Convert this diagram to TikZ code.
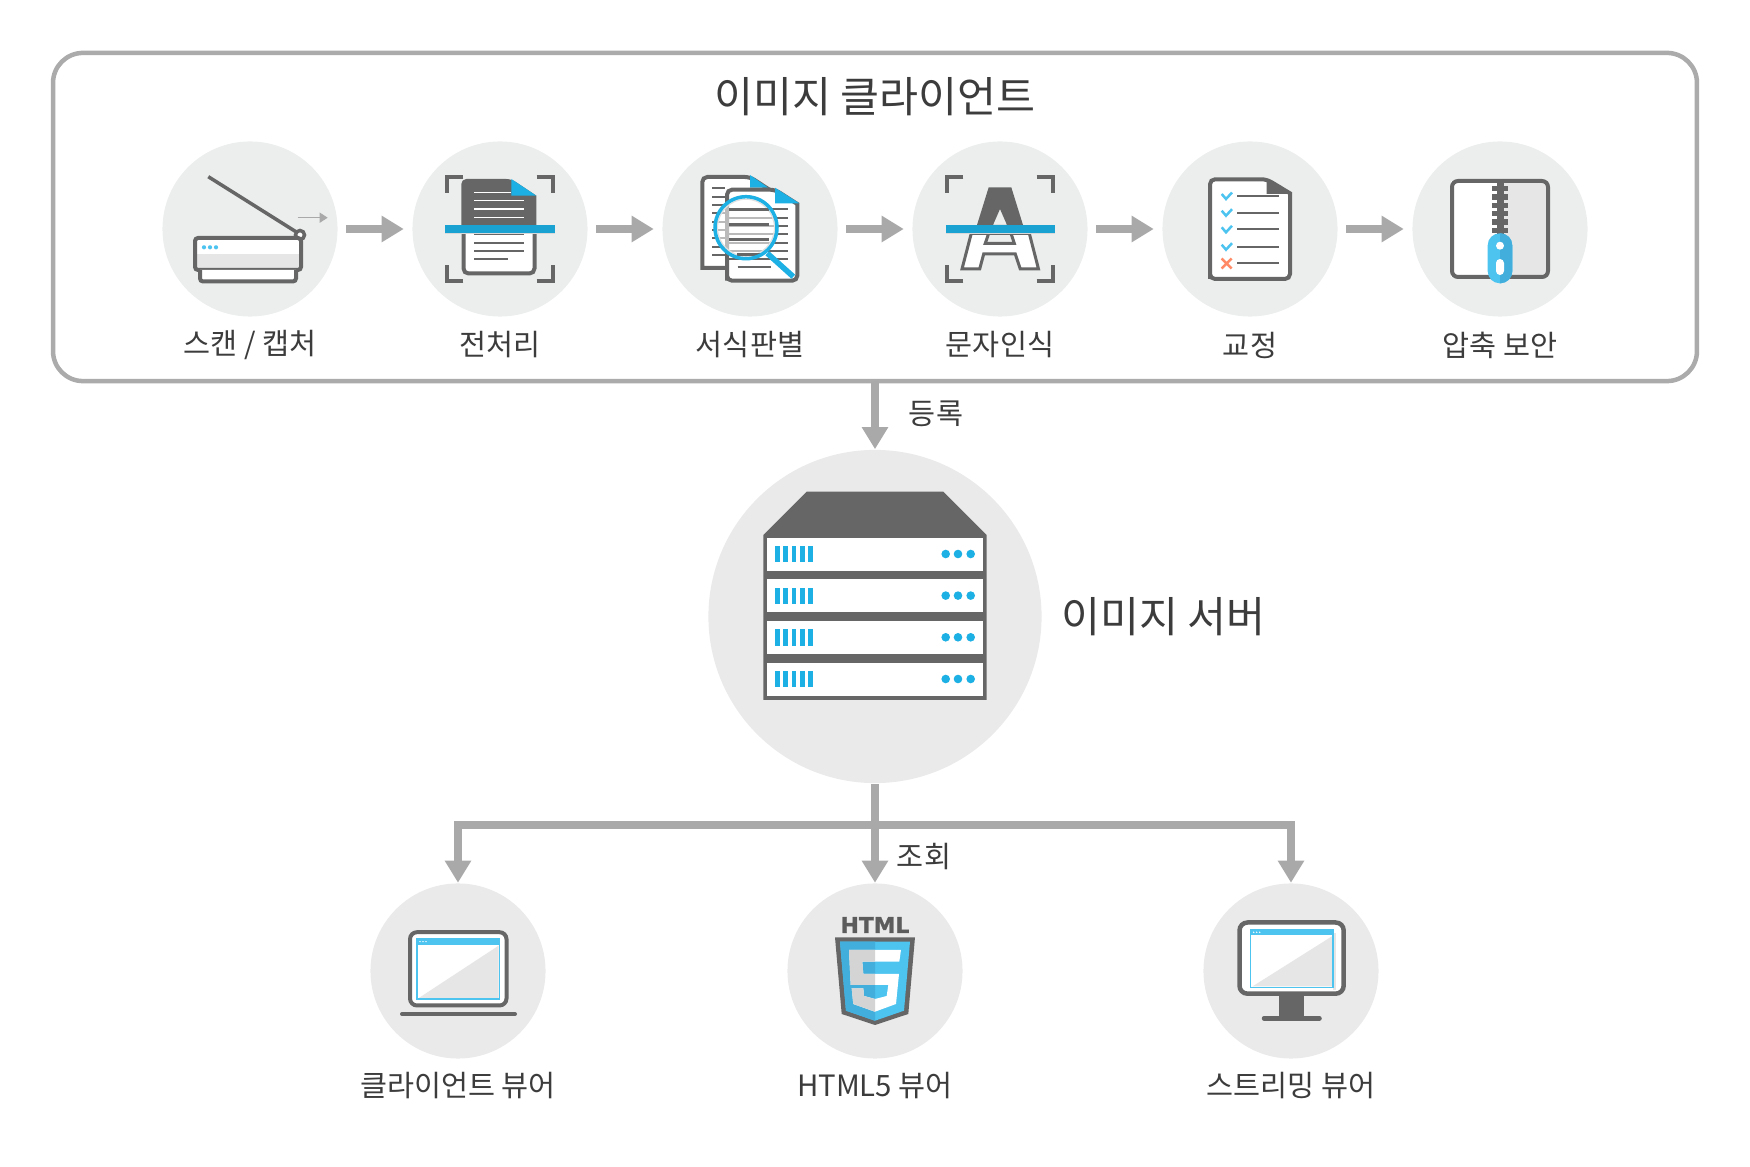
\documentclass[tikz,border=0pt]{standalone}
\usepackage{fontspec}
\setmainfont{Noto Sans CJK KR}
\newfontfamily\htmlfont[FakeBold=1.2]{DejaVu Sans Bold}
\usetikzlibrary{arrows.meta}
\definecolor{icongrey}{HTML}{666666}
\definecolor{flowgrey}{HTML}{A9A9A9}
\definecolor{framegrey}{HTML}{ABABAB}
\definecolor{diskgrey}{HTML}{ECEDED}
\definecolor{serverdisk}{HTML}{EAEAEA}
\definecolor{lightgrey}{HTML}{E6E6E6}
\definecolor{deepblue}{HTML}{1CB0E4}
\definecolor{skyblue}{HTML}{4DC3F0}
\definecolor{shadeblue}{HTML}{42AEDB}
\definecolor{wrong}{HTML}{FF8A65}
\definecolor{inkgrey}{HTML}{3C3C3C}
\tikzset{
	stepdisk/.style={circle, fill=diskgrey, inner sep=0, minimum size=1.75cm},
	caption/.style={text=inkgrey, font=\fontsize{8.35}{10}\selectfont, inner sep=0},
	headline/.style={text=inkgrey, font=\fontsize{12.05}{14}\selectfont, inner sep=0},
	flow/.style={line width=0.08cm, color=flowgrey, -{Triangle[length=0.22cm,width=0.25cm]}},
	iconline/.style={line width=0.04cm, color=icongrey},
	hairline/.style={line width=0.02cm, color=icongrey},
}
\def\scanbrackets{
	\foreach \sx in {-1,1} \foreach \sy in {-1,1}
		\draw[iconline] (52.7*\sx-16*\sx, 52*\sy) -- (52.7*\sx, 52*\sy) -- (52.7*\sx, 52*\sy-16*\sy);
}
\def\browserwindow(#1,#2)(#3,#4){
	\fill[white] (#1,#2) rectangle (#3,#4);
	\fill[lightgrey] (#1+2,#4-1) -- (#3-1,#2+7) -- (#3-1,#4-1) -- cycle;
	\draw[line width=0.015cm, color=skyblue] (#1,#2) rectangle (#3,#4);
	\fill[skyblue] (#1,#2) rectangle (#3,#2+6);
	\foreach \i in {0,1,2}
		\fill[white] (#1+3+\i*3,#2+3) circle (0.8);
}

\begin{document}
\begin{tikzpicture}[x=0.01cm, y=-0.01cm]
	%%%%% START %%%%%
	\useasboundingbox (0,0) rectangle (1750,1167);
	
	\node[draw=framegrey, line width=0.045cm, rounded corners=0.3cm, outer sep=0, inner sep=0, minimum width=16.43cm, minimum height=3.28cm] (imageclient) at (875,217) {};
	\node[headline] (clienttitle) at (875,97) {이미지 클라이언트};
	
	\node[stepdisk] (scan) at (250,229) {};
	\node[stepdisk] (prep) at (500,229) {};
	\node[stepdisk] (form) at (750,229) {};
	\node[stepdisk] (ocr) at (1000,229) {};
	\node[stepdisk] (proof) at (1250,229) {};
	\node[stepdisk] (zip) at (1500,229) {};
	
	\node[caption] (scanlabel) at (250,345) {스캔 / 캡처};
	\node[caption] (preplabel) at (500,345) {전처리};
	\node[caption] (formlabel) at (750,345) {서식판별};
	\node[caption] (ocrlabel) at (1000,345) {문자인식};
	\node[caption] (prooflabel) at (1250,345) {교정};
	\node[caption] (ziplabel) at (1500,345) {압축 보안};
	
	\foreach \a/\b in {scan/prep, prep/form, form/ocr, ocr/proof, proof/zip}
		\draw[flow, shorten <=0.08cm, shorten >=0.08cm] (\a) -- (\b);
	
	\node[circle, fill=serverdisk, inner sep=0, minimum size=3.33cm] (server) at (875,616.5) {};
	\node[headline] (serverlabel) at (1163.5,617) {이미지 서버};
	\draw[flow] (imageclient.south) -- (server.north);
	\node[caption] (enroll) at (936,414) {등록};
	
	\node[stepdisk, fill=serverdisk] (client) at (458,971) {};
	\node[stepdisk, fill=serverdisk] (web) at (875,971) {};
	\node[stepdisk, fill=serverdisk] (stream) at (1291,971) {};
	\node[caption] (clientlabel) at (458,1086) {클라이언트 뷰어};
	\node[caption] (weblabel) at (875,1086) {HTML5 뷰어};
	\node[caption] (streamlabel) at (1291,1086) {스트리밍 뷰어};
	\node[caption] (query) at (924,857) {조회};
	
	\coordinate (branch) at (875,825);
	\draw[flow] (server.south) -- (web.north);
	\draw[flow] (branch) -| (client.north);
	\draw[flow] (branch) -| (stream.north);
	
	% scanner
	\begin{scope}[shift={(scan)}]
		\draw[line width=0.035cm, color=icongrey] (-41.7,-52.3) -- (50,5.3);
		\draw[line width=0.035cm, color=icongrey, fill=white] (50,6) circle (4.5);
		\draw[line width=0.015cm, color=flowgrey, -{Triangle[length=0.08cm,width=0.1cm]}] (47.7,-11.3) -- (77.7,-11.3);
		\fill[white] (-55,9) rectangle (51,25);
		\fill[lightgrey] (-55,25) rectangle (51,41);
		\draw[iconline, rounded corners=0.03cm] (-55,9) rectangle (51,41);
		\draw[iconline, fill=white, rounded corners=0.03cm] (-50,41) -- (-50,52.5) -- (46,52.5) -- (46,41);
		\foreach \i in {0,1,2}
			\fill[skyblue] (-46+\i*6,18.3) circle (2.1);
	\end{scope}
	
	% preprocessing
	\begin{scope}[shift={(prep)}]
		\scanbrackets
		\draw[iconline, fill=white, rounded corners=0.05cm] (-36.5,0) -- (-36.5,44.5) -- (34.5,44.5) -- (34.5,0);
		\fill[icongrey, rounded corners=0.05cm] (-38.7,0) -- (-38.7,-50) -- (11.3,-50) [sharp corners] -- (36.3,-33.3) -- (36.3,0) -- cycle;
		\fill[deepblue] (11.3,-50) -- (36.3,-33.3) -- (11.3,-33.3) -- cycle;
		\draw[line width=0.015cm, color=white] (-25.7,-36.7) -- (11.3,-36.7);
		\foreach \y in {-28.3,-20,-11.7}
			\draw[line width=0.015cm, color=white] (-25.7,\y) -- (24.3,\y);
		\foreach \y in {5.3,13.7,22}
			\draw[hairline] (-25.7,\y) -- (24.3,\y);
		\draw[hairline] (-25.7,30.3) -- (8,30.3);
		\fill[black!15] (-54.7,4.3) rectangle (54.7,5.3);
		\fill[deepblue!92!black] (-54.7,-4) rectangle (54.7,4.3);
	\end{scope}
	
	% form matching
	\begin{scope}[shift={(form)}]
		\draw[iconline, fill=white, rounded corners=0.05cm] (18,39) [sharp corners] -- (-47.7,39) [rounded corners=0.05cm] -- (-47.7,-52) -- (0,-52) [sharp corners] -- (18.3,-40) -- cycle;
		\fill[deepblue] (0,-54) -- (18.3,-41.3) -- (0,-41.3) -- cycle;
		\foreach \k in {0,...,8}
			\draw[hairline] (-37.7,-40.7+8.33*\k) -- (-25,-40.7+8.33*\k);
		\draw[iconline, fill=white, rounded corners=0.05cm] (-23,51.7) [sharp corners] -- (-23,51.7) [rounded corners=0.05cm] -- (-23,-39.3) -- (25,-39.3) [sharp corners] -- (47.3,-25) [rounded corners=0.05cm] -- (47.3,51.7) -- cycle;
		\fill[deepblue] (25,-41.3) -- (49.3,-25.7) -- (25,-25.7) -- cycle;
		\foreach \k in {0,...,6}
			\draw[hairline] (-20.7,-19.7+8.33*\k) -- (37.7,-19.7+8.33*\k);
		\draw[hairline] (-12.3,38.3) -- (21,38.3);
		\fill[white, opacity=0.55] (-4,-1.3) circle (32);
		\draw[line width=0.012cm, color=black!12] (-4,-1.3) circle (28.5);
		\foreach \y in {-19,-4,10.3}
			\draw[line width=0.03cm, color=icongrey] (-21,\y) -- (19,\y);
		\draw[line width=0.03cm, color=icongrey] (-13,25.3) -- (11,25.3);
		\draw[line width=0.035cm, color=deepblue] (-4,-1.3) circle (31);
		\draw[line width=0.055cm, color=deepblue] (17.3,24.3) -- (43.3,47.7);
	\end{scope}
	
	% character recognition
	\begin{scope}[shift={(ocr)}]
		\scanbrackets
		\fill[icongrey, even odd rule] (-11.3,-41.7) -- (11.3,-41.7) -- (23,-4) -- (-23,-4) -- cycle (0,-20) -- (7,-4) -- (-7,-4) -- cycle;
		\draw[line width=0.03cm, color=icongrey, fill=white, even odd rule] (-28.7,4.3) -- (-38,40) -- (-20.3,40) -- (-16.3,25) -- (15.3,25) -- (20.3,40) -- (38.5,40) -- (29.3,4.3) -- cycle (-11.3,4.3) -- (-14.7,14.3) -- (14.3,14.3) -- (11,4.3) -- cycle;
		\fill[black!15] (-54,4.3) rectangle (54.7,5.3);
		\fill[deepblue!92!black] (-54,-4) rectangle (54.7,4.3);
	\end{scope}
	
	% proofreading
	\begin{scope}[shift={(proof)}]
		\draw[iconline, fill=white, rounded corners=0.05cm] (-40,50) [sharp corners] -- (-40,50) [rounded corners=0.05cm] -- (-40,-49.7) -- (16.7,-49.7) [sharp corners] -- (40,-35.7) [rounded corners=0.05cm] -- (40,50) -- cycle;
		\fill[icongrey] (16.7,-50) -- (41.7,-35) -- (16.7,-35) -- cycle;
		\foreach \y in {-33,-16.3,0.3,17.7}{
			\draw[line width=0.02cm, color=icongrey] (-12.7,\y) -- (29.3,\y);
			\draw[line width=0.025cm, color=skyblue] (-28.3,\y-2) -- (-24,\y+3) -- (-18,\y-3.5);
		}
		\draw[line width=0.02cm, color=icongrey] (-12.7,34.3) -- (29.3,34.3);
		\draw[line width=0.025cm, color=wrong] (-28.3,29.5) -- (-18.3,39.5) (-18.3,29.5) -- (-28.3,39.5);
	\end{scope}
	
	% compression
	\begin{scope}[shift={(zip)}]
		\fill[white] (-49,-48) rectangle (0,48);
		\fill[lightgrey] (0,-48) rectangle (49,48);
		\draw[iconline, rounded corners=0.06cm] (-48,-48) rectangle (48,48);
		\fill[icongrey] (-3.5,-49.7) rectangle (3.5,6);
		\foreach \k in {0,...,5}
			\fill[icongrey] (-8.3,-43+8.33*\k) rectangle (8.3,-37.5+8.33*\k);
		\fill[skyblue, rounded corners=0.12cm] (-12.3,4.3) rectangle (12.3,54.3);
		\begin{scope}
			\clip (0,0) rectangle (14,56);
			\fill[shadeblue, rounded corners=0.12cm] (-12.3,4.3) rectangle (12.3,54.3);
		\end{scope}
		\fill[white] (0,16.7) circle (4);
		\fill[white, rounded corners=0.04cm] (-4,30) rectangle (4,46);
	\end{scope}
	
	% server rack
	\begin{scope}[shift={(server)}]
		\fill[icongrey] (-68.3,-124.8) -- (68.3,-124.8) -- (111.7,-81.5) -- (111.7,83.5) -- (-111.7,83.5) -- (-111.7,-81.5) -- cycle;
		\foreach \y in {-78.8,-37.2,4.5,46.2}{
			\fill[white] (-108.3,\y) rectangle (108.3,\y+33);
			\foreach \k in {0,...,4}
				\fill[deepblue] (-100+8.33*\k,\y+8.3) rectangle (-95.3+8.33*\k,\y+24.7);
			\foreach \x in {70.7,83,95.7}
				\fill[deepblue] (\x,\y+16.3) circle (4.3);
		}
	\end{scope}
	
	% laptop
	\begin{scope}[shift={(client)}]
		\draw[iconline, fill=white, rounded corners=0.07cm] (-48,-38.8) rectangle (48.5,34.5);
		\browserwindow(-41,-32.4)(41.7,27.9)
		\draw[iconline, line cap=round] (-56,43) -- (57,43);
	\end{scope}
	
	% html5 shield
	\begin{scope}[shift={(web)}]
		\node[text=icongrey!90!black, font=\htmlfont\fontsize{6.2}{7}\selectfont, inner sep=0] (htmlbadge) at (0,-46) {HTML};
		\fill[icongrey] (-40,-33.7) -- (40,-33.7) -- (33.3,43) -- (0,54) -- (-33.3,43) -- cycle;
		\fill[skyblue] (-35,-29.3) -- (35,-29.3) -- (29,39.7) -- (0,49.7) -- (-29,39.7) -- cycle;
		\fill[shadeblue] (-35,-29.3) -- (0,-29.3) -- (0,49.7) -- (-29,39.7) -- cycle;
		\def\fivepath{(-26,-21) -- (26,-21) -- (24.3,-9.3) -- (-12.7,-9.3) -- (-11.7,3) -- (24,3) -- (21,33) -- (0,40.7) -- (-21.7,33) -- (-23.3,17.3) -- (-11.7,17.3) -- (-11,25) -- (0,28) -- (11.7,25) -- (13.3,14) -- (-24.3,14) -- cycle}
		\fill[white] \fivepath;
		\begin{scope}
			\clip (-40,-30) rectangle (0,56);
			\fill[black!17] \fivepath;
		\end{scope}
	\end{scope}
	
	% monitor
	\begin{scope}[shift={(stream)}]
		\fill[icongrey] (-12,22.5) rectangle (13.3,46);
		\draw[line width=0.045cm, color=icongrey, line cap=round] (-27,47.3) -- (28.5,47.3);
		\draw[line width=0.045cm, color=icongrey, fill=white, rounded corners=0.08cm] (-51.5,-48.5) rectangle (52.7,22.7);
		\fill[black!10] (42,-38) rectangle (45,19);
		\browserwindow(-40.3,-41.7)(42,16.3)
	\end{scope}
	
	%%%%% END %%%%%
\end{tikzpicture}
\end{document}
